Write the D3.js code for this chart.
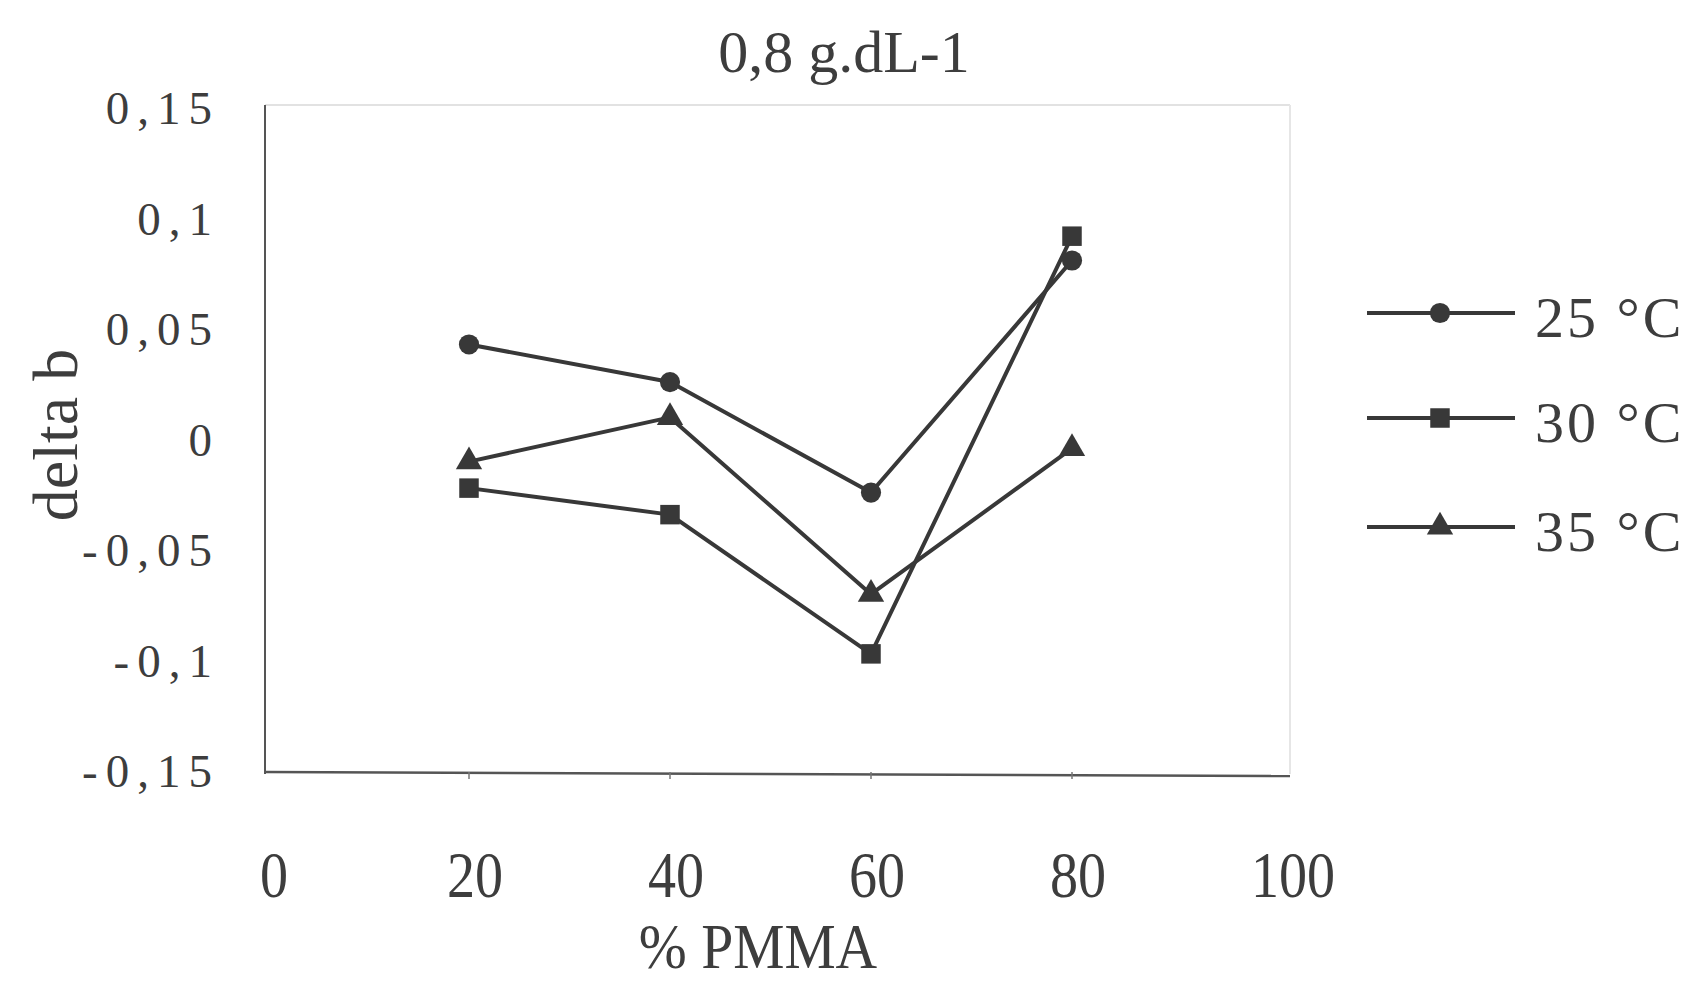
<!DOCTYPE html>
<html>
<head>
<meta charset="utf-8">
<script src="https://cdn.jsdelivr.net/npm/d3@7"></script>
<style>
  html, body { margin: 0; padding: 0; background: #fff; }
  svg { display: block; }
  text { font-family: "Liberation Serif", "DejaVu Serif", serif; fill: #3d3d3d; }
</style>
</head>
<body>
<svg id="chart"></svg>
<script>
//--------------------------------------------
// DATA
//--------------------------------------------
const pmma = [20, 40, 60, 80];
const series = ["25 °C", "30 °C", "35 °C"];
const t25 = [0.043, 0.026, -0.024, 0.081];
const t30 = [-0.022, -0.034, -0.097, 0.092];
const t35 = [-0.010, 0.010, -0.070, -0.004];
const xTicks = [0, 20, 40, 60, 80, 100];
const yTicks = [0.15, 0.1, 0.05, 0, -0.05, -0.1, -0.15];
const title = "0,8 g.dL-1";
const xTitle = "% PMMA";
const yTitle = "delta b";

//--------------------------------------------
// CONFIG
//--------------------------------------------
const width = 1694, height = 981;
const ink = "#383838";
const markers = [d3.symbolCircle, d3.symbolSquare, d3.symbolTriangle];
const markerSize = [320, 380, 300];

const svg = d3.select("#chart")
  .attr("width", width)
  .attr("height", height)
  .attr("viewBox", [0, 0, width, height]);

const x = d3.scaleLinear([0, 100], [268, 1273]);
const y = d3.scaleLinear([-0.15, 0.15], [771, 108]);

const fmt = d3.formatLocale({ decimal: ",", thousands: ".", grouping: [3], currency: ["", ""], minus: "-" }).format("~g");

//--------------------------------------------
// FRAME
//--------------------------------------------
const frame = { left: 265, top: 105, right: 1290, bottom: 774 };
svg.append("line") // top border, faint
  .attr("x1", frame.left).attr("x2", frame.right)
  .attr("y1", frame.top).attr("y2", frame.top)
  .attr("stroke", "#e2e2e2").attr("stroke-width", 2);
svg.append("line") // right border, faint
  .attr("x1", frame.right).attr("x2", frame.right)
  .attr("y1", frame.top).attr("y2", frame.bottom)
  .attr("stroke", "#e6e6e6").attr("stroke-width", 2);
svg.append("line") // left axis
  .attr("x1", frame.left).attr("x2", frame.left)
  .attr("y1", frame.top).attr("y2", frame.bottom)
  .attr("stroke", "#555").attr("stroke-width", 2);
svg.append("line") // bottom axis
  .attr("x1", frame.left).attr("x2", frame.right)
  .attr("y1", frame.bottom - 2).attr("y2", frame.bottom + 2)
  .attr("stroke", "#555").attr("stroke-width", 2.5);

// small tick marks on the bottom axis
svg.append("g")
  .selectAll("line")
  .data(xTicks.slice(1, -1))
  .join("line")
    .attr("x1", d => x(d)).attr("x2", d => x(d))
    .attr("y1", frame.bottom - 2).attr("y2", frame.bottom + 5)
    .attr("stroke", "#777").attr("stroke-width", 1.5);

//--------------------------------------------
// AXIS LABELS
//--------------------------------------------
svg.append("g")
  .selectAll("text")
  .data(yTicks)
  .join("text")
    .attr("x", 220)
    .attr("y", d => y(d) + 16)
    .attr("text-anchor", "end")
    .attr("font-size", 47)
    .attr("letter-spacing", 8)
    .text(d => fmt(d));

svg.append("g")
  .selectAll("text")
  .data(xTicks)
  .join("text")
    .attr("transform", d => `translate(${x(d) + 6 + (d === 100 ? 14 : 0)},897) scale(0.85,1)`)
    .attr("text-anchor", "middle")
    .attr("font-size", 66)
    .text(d => d);

svg.append("text")
  .attr("transform", "translate(758,968) scale(0.9,1)")
  .attr("text-anchor", "middle")
  .attr("font-size", 64)
  .text(xTitle);

svg.append("text")
  .attr("transform", "translate(77,435) rotate(-90)")
  .attr("text-anchor", "middle")
  .attr("font-size", 64)
  .text(yTitle);

svg.append("text")
  .attr("x", 844)
  .attr("y", 72)
  .attr("text-anchor", "middle")
  .attr("font-size", 60)
  .text(title);

//--------------------------------------------
// LINES + MARKERS
//--------------------------------------------
const allSeries = [t25, t30, t35];
const line = d3.line().x((d, i) => x(pmma[i])).y(d => y(d));

const plot = svg.append("g");
allSeries.forEach(vals => {
  plot.append("path")
    .attr("d", line(vals))
    .attr("fill", "none")
    .attr("stroke", ink)
    .attr("stroke-width", 4)
    .attr("stroke-linejoin", "round");
});
allSeries.forEach((vals, k) => {
  plot.append("g")
    .selectAll("path")
    .data(vals)
    .join("path")
      .attr("transform", (d, i) => `translate(${x(pmma[i])},${y(d)})`)
      .attr("d", d3.symbol(markers[k], markerSize[k]))
      .attr("fill", ink);
});

//--------------------------------------------
// LEGEND
//--------------------------------------------
const legendY = [313, 418, 527];
const legend = svg.append("g")
  .selectAll("g")
  .data(series)
  .join("g")
    .attr("transform", (d, i) => `translate(0,${legendY[i]})`);

legend.append("line")
  .attr("x1", 1367).attr("x2", 1515)
  .attr("stroke", ink).attr("stroke-width", 4);
legend.append("path")
  .attr("transform", "translate(1440,0)")
  .attr("d", (d, i) => d3.symbol(markers[i], markerSize[i])())
  .attr("fill", ink);
legend.append("text")
  .attr("x", 1535)
  .attr("y", 24)
  .attr("font-size", 58)
  .attr("letter-spacing", 3)
  .text(d => d);
</script>
</body>
</html>
